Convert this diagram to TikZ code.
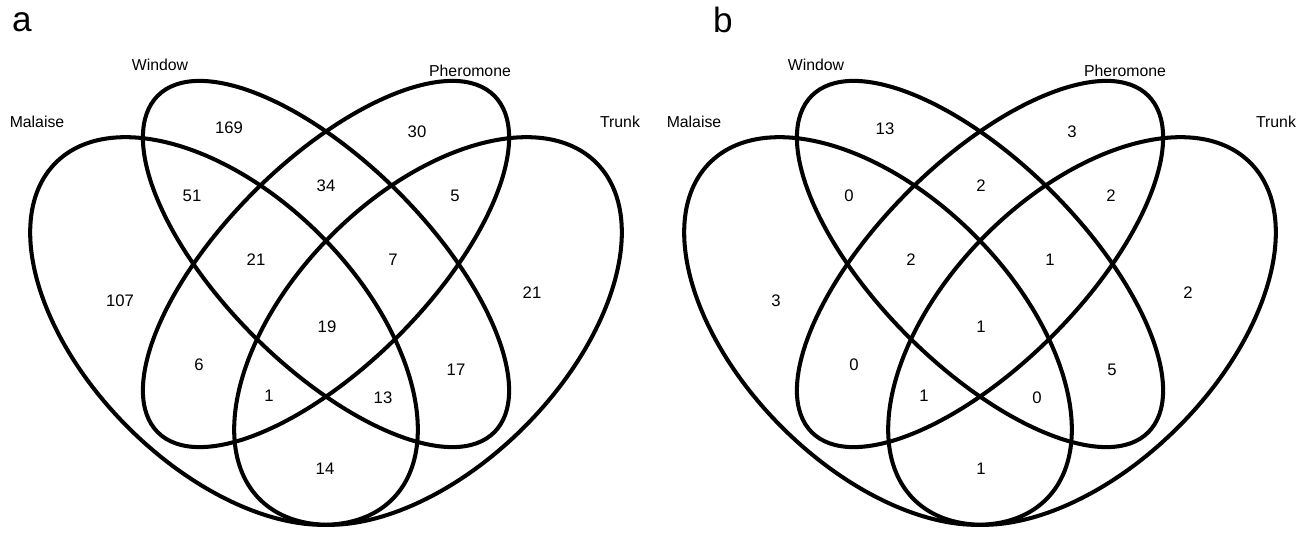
\documentclass[tikz,border=0pt]{standalone}
\usepackage{fontspec}
\setmainfont{Liberation Sans}
\tikzset{
  venn/.style={line width=2.3pt},
  setlab/.style={font=\fontsize{9}{11}\selectfont},
  cnt/.style={font=\fontsize{9.5}{11}\selectfont},
  panel/.style={font=\fontsize{20}{22}\selectfont}
}
\newcommand\myvenn[1]{%
  \begin{scope}[xshift=#1*0.02cm]
    \draw[venn,rotate around={-45:(224,331)}] (224,331) ellipse [x radius=4.76cm,y radius=2.72cm];
    \draw[venn,rotate around={-45:(326,264)}] (326,264) ellipse [x radius=4.76cm,y radius=2.04cm];
    \draw[venn,rotate around={45:(326,264)}] (326,264) ellipse [x radius=4.76cm,y radius=2.04cm];
    \draw[venn,rotate around={45:(428,331)}] (428,331) ellipse [x radius=4.76cm,y radius=2.72cm];
  \end{scope}}

\begin{document}
\begin{tikzpicture}[x=0.02cm,y=-0.02cm]
  \useasboundingbox (0,0) rectangle (1300,533);
  \myvenn{0}
  \myvenn{654}

  \node[panel] (pa) at (22,22) {a};
  \node[panel] (pb) at (723,20) {b};

  % set names
  \foreach \name/\x/\y/\txt in {ma/37/122/Malaise, wa/160/65/Window, pa2/470/71/Pheromone, ta/620/122/Trunk,
      mb/694/122/Malaise, wb/816/65/Window, pb2/1125/71/Pheromone, tb/1276/122/Trunk}
    \node[setlab] (\name) at (\x,\y) {\txt};

  % counts, panel a
  \foreach \name/\x/\y/\txt in {a1/229/128/169, a2/417/132/30, a3/192/196/51, a4/326/186/34,
      a5/455/196/5, a6/256/260/21, a7/393/260/7, a8/120/301/107, a9/532/293/21,
      a10/327/327/19, a11/199/365/6, a12/456/370/17, a13/269/396/1, a14/383/398/13, a15/325/469/14}
    \node[cnt] (\name) at (\x,\y) {\txt};

  % counts, panel b
  \foreach \name/\x/\y/\txt in {b1/885/129/13, b2/1072/132/3, b3/849/196/0, b4/981/186/2,
      b5/1111/196/2, b6/911/260/2, b7/1050/260/1, b8/776/301/3, b9/1188/293/2,
      b10/981/327/1, b11/854/365/0, b12/1112/370/5, b13/924/396/1, b14/1037/398/0, b15/981/469/1}
    \node[cnt] (\name) at (\x,\y) {\txt};
\end{tikzpicture}
\end{document}
